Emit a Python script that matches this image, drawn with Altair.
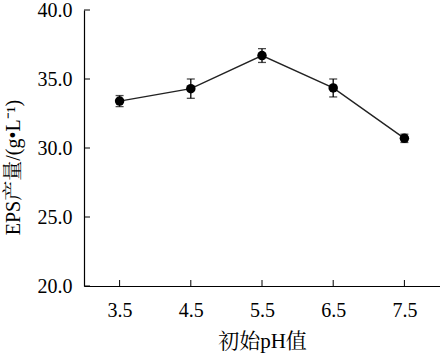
import altair as alt
import pandas as pd

ph = [3.5, 4.5, 5.5, 6.5, 7.5]
eps = [33.4, 34.3, 36.7, 34.35, 30.7]
err = [0.4, 0.7, 0.5, 0.65, 0.3]
y_ticks = [20, 25, 30, 35, 40]
x_ticks = [3.5, 4.5, 5.5, 6.5, 7.5]

df = pd.DataFrame({"ph": ph, "eps": eps, "err": err})
df["lo"] = df["eps"] - df["err"]
df["hi"] = df["eps"] + df["err"]

FONT = "Liberation Serif"
TFONT = "Liberation Serif, Noto Serif CJK SC, Noto Sans CJK SC"

xs = alt.Scale(domain=[3, 8], nice=False, zero=False)
ys = alt.Scale(domain=[20, 40], nice=False, zero=False)

base = alt.Chart(df)

x_enc = alt.X("ph:Q", scale=xs, axis=alt.Axis(
    values=x_ticks, format=".1f", title="初始pH值", ticks=False, grid=False,
    labelPadding=14, titlePadding=10, domainColor="black", domainWidth=1.2,
    labelFont=FONT, labelFontSize=20, labelColor="black",
    titleFont=TFONT, titleFontSize=21, titleFontWeight="normal", titleColor="black"))
y_enc = alt.Y("eps:Q", scale=ys, axis=alt.Axis(
    values=y_ticks, format=".1f", title="EPS产量/(g•L⁻¹)", ticks=False, grid=False,
    labelPadding=12, domainColor="black", domainWidth=1.2,
    labelFont=FONT, labelFontSize=20, labelColor="black",
    titleFont=TFONT, titleFontSize=20, titleFontWeight="normal", titleColor="black",
    titleY=157, titleX=-65, titleBaseline="alphabetic"))

line = base.mark_line(color="#222222", strokeWidth=1.4).encode(x=x_enc, y=y_enc)
pts = base.mark_circle(color="black", opacity=1, size=90).encode(x="ph:Q", y="eps:Q")
bars = base.mark_rule(color="black", strokeWidth=1.3).encode(x="ph:Q", y="lo:Q", y2="hi:Q")
cap_lo = base.mark_tick(color="black", orient="horizontal", size=8, thickness=1.3).encode(x="ph:Q", y="lo:Q")
cap_hi = base.mark_tick(color="black", orient="horizontal", size=8, thickness=1.3).encode(x="ph:Q", y="hi:Q")

tick_df_y = pd.DataFrame({"v": y_ticks})
tick_df_x = pd.DataFrame({"v": x_ticks})
yt = alt.Chart(tick_df_y).mark_rule(color="black", strokeWidth=1).encode(
    y=alt.Y("v:Q", scale=ys), x=alt.value(0), x2=alt.value(6))
xt = alt.Chart(tick_df_x).mark_rule(color="black", strokeWidth=1).encode(
    x=alt.X("v:Q", scale=xs), y=alt.value(276), y2=alt.value(270))

chart = alt.layer(line, bars, cap_lo, cap_hi, pts, yt, xt).properties(
    width=356, height=276,
    padding={"left": 84, "top": 10, "right": 0, "bottom": 67},
    autosize=alt.AutoSizeParams(type="none"),
    background="white",
).configure_view(stroke=None)

chart.save("out.html", embed_options={"renderer": "svg", "actions": False})
